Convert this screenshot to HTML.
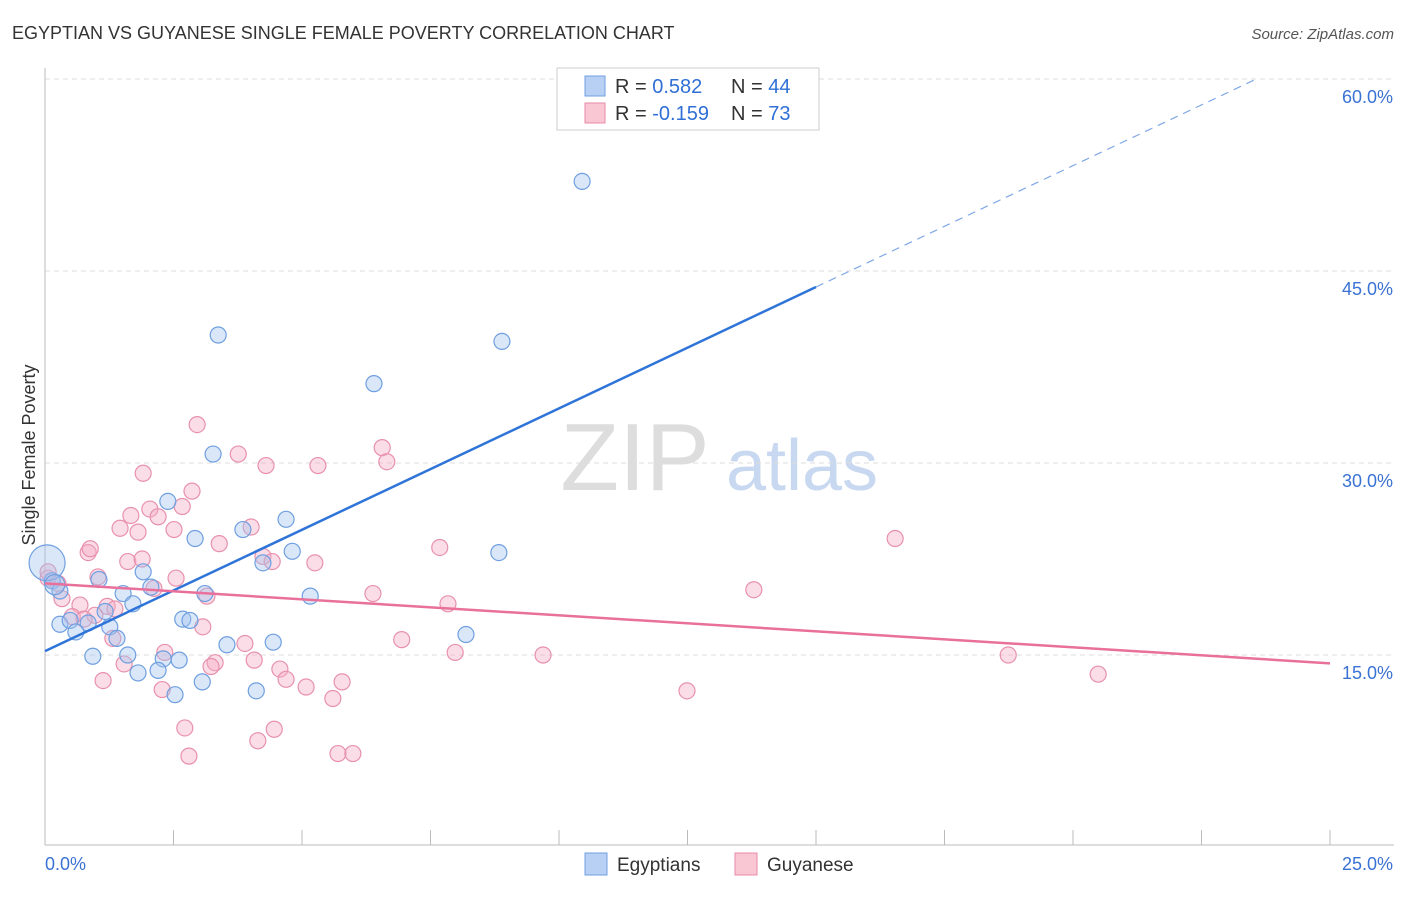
<!DOCTYPE html>
<html><head><meta charset="utf-8"><style>
body{margin:0;background:#fff;font-family:"Liberation Sans",sans-serif;}
svg text{font-family:"Liberation Sans",sans-serif;}
</style></head><body>
<svg id="chart" width="1406" height="892">
<text x="12" y="39" font-size="18" fill="#333">EGYPTIAN VS GUYANESE SINGLE FEMALE POVERTY CORRELATION CHART</text>
<text x="1394" y="39" font-size="15" fill="#555" font-style="italic" text-anchor="end">Source: ZipAtlas.com</text>
<text x="35" y="455" font-size="18" fill="#333" transform="rotate(-90 35 455)" text-anchor="middle">Single Female Poverty</text>
<g><text x="635" y="490" font-size="96" fill="#ddd" font-family="Liberation Serif" text-anchor="middle">ZIP</text><text x="802" y="490" font-size="72" fill="#c7d8f0" text-anchor="middle">atlas</text></g>
<g id="grid"></g><g id="axes"></g><g id="pts"></g><g id="lines"></g>
<g>
<rect x="557" y="68" width="262" height="62" fill="#fff" stroke="#ccc"/>
<rect x="585" y="76" width="20" height="20" fill="#b8d0f4" stroke="#6f9fe0"/>
<rect x="585" y="103" width="20" height="20" fill="#f9c6d4" stroke="#e88aa8"/>
<text x="615" y="93" font-size="20" fill="#333">R = <tspan fill="#2f6fd6"> 0.582</tspan><tspan x="731">N = </tspan><tspan fill="#2f6fd6">44</tspan></text>
<text x="615" y="120" font-size="20" fill="#333">R = <tspan fill="#2f6fd6">-0.159</tspan><tspan x="731">N = </tspan><tspan fill="#2f6fd6">73</tspan></text>
</g>
<g>
<rect x="585" y="853" width="22" height="22" fill="#b8d0f4" stroke="#6f9fe0"/>
<text x="617" y="871" font-size="19" fill="#333">Egyptians</text>
<rect x="735" y="853" width="22" height="22" fill="#f9c6d4" stroke="#e88aa8"/>
<text x="767" y="871" font-size="19" fill="#333">Guyanese</text>
</g>
</svg>
<script>
const yTicks=[15,30,45,60];
const xTickLabels=["0.0%","25.0%"];
const blueX=[10.45,3.37,8.89,6.40,3.27,2.39,4.69,3.85,2.92,4.81,8.83,4.24,1.91,1.05,0.14,0.29,2.06,1.52,3.11,1.71,5.16,2.68,2.82,1.17,0.29,0.49,0.84,1.26,0.60,1.40,3.54,4.44,8.19,0.93,1.61,2.30,2.61,2.20,1.81,3.06,4.11,2.53,0.04,0.19];
const blueY=[52.0,40.0,39.5,36.2,30.7,27.0,25.6,24.8,24.1,23.1,23.0,22.2,21.5,20.9,20.8,20.0,20.3,19.8,19.8,19.0,19.6,17.8,17.7,18.4,17.4,17.7,17.5,17.2,16.8,16.3,15.8,16.0,16.6,14.9,15.0,14.7,14.6,13.8,13.6,12.9,12.2,11.9,22.2,20.5];
const blueR=[8,8,8,8,8,8,8,8,8,8,8,8,8,8,8,8,8,8,8,8,8,8,8,8,8,8,8,8,8,8,8,8,8,8,8,8,8,8,8,8,8,8,18,10];
const pinkX=[2.96,6.56,3.76,6.65,4.30,5.31,1.91,2.86,2.67,2.04,1.67,2.20,2.51,1.46,1.81,4.01,3.39,16.54,7.68,0.84,0.88,1.61,1.89,4.24,4.42,5.25,2.55,1.03,0.06,0.25,2.12,3.15,6.38,13.79,0.33,0.68,7.84,1.21,1.36,0.97,0.53,0.76,3.07,6.94,1.32,3.89,2.33,7.98,9.69,18.74,4.07,3.31,3.23,1.54,4.57,4.69,5.78,20.49,1.13,5.08,2.28,12.49,5.60,2.72,4.46,4.14,2.80,5.70,5.99,0.06];
const pinkY=[33.0,31.2,30.7,30.1,29.8,29.8,29.2,27.8,26.6,26.4,25.9,25.8,24.8,24.9,24.6,25.0,23.7,24.1,23.4,23.0,23.3,22.3,22.5,22.7,22.3,22.2,21.0,21.1,21.0,20.6,20.2,19.6,19.8,20.1,19.4,18.9,19.0,18.8,18.6,18.1,18.0,17.8,17.2,16.2,16.3,15.9,15.2,15.2,15.0,15.0,14.6,14.4,14.1,14.3,13.9,13.1,12.9,13.5,13.0,12.5,12.3,12.2,11.6,9.3,9.2,8.3,7.1,7.3,7.3,21.5];
const blueFit=[15.3,43.75];
const pinkFit=[20.6,14.35];
const X=v=>45+v*51.4, Y=v=>847-v*12.8;
const NS="http://www.w3.org/2000/svg";
function mk(t,a,p){const e=document.createElementNS(NS,t);for(const k in a)e.setAttribute(k,a[k]);p.appendChild(e);return e;}
const grid=document.getElementById('grid'),axes=document.getElementById('axes'),pts=document.getElementById('pts'),lines=document.getElementById('lines');
yTicks.forEach(t=>{
 const l=mk('line',{x1:45,x2:1394,y1:Y(t),y2:Y(t),stroke:'#ddd','stroke-dasharray':'5,4'},grid);
 
 
 const tx=mk('text',{x:1393,y:Y(t)+24,'font-size':18,fill:'#3a72d4','text-anchor':'end'},axes);
 tx.textContent=t.toFixed(1)+'%';
 
 
});
const ax=mk('line',{x1:45,x2:1394,y1:845,y2:845,stroke:'#bbb'},axes);


const ay=mk('line',{x1:45,x2:45,y1:68,y2:845,stroke:'#bbb'},axes);


for(let i=0;i<=10;i++){const t=mk('line',{x1:X(i*2.5),x2:X(i*2.5),y1:830,y2:845,stroke:'#bbb'},axes);
 
 }
const l0=mk('text',{x:45,y:870,'font-size':18,fill:'#3a72d4'},axes);l0.textContent=xTickLabels[0];


const l1=mk('text',{x:1393,y:870,'font-size':18,fill:'#3a72d4','text-anchor':'end'},axes);l1.textContent=xTickLabels[1];


pinkX.forEach((x,i)=>{const c=mk('circle',{cx:X(x),cy:Y(pinkY[i]),r:8,fill:'rgba(245,170,195,0.4)',stroke:'#e891ad','stroke-width':1.2},pts);
 
 });
blueX.forEach((x,i)=>{const c=mk('circle',{cx:X(x),cy:Y(blueY[i]),r:blueR[i],fill:'rgba(160,195,240,0.4)',stroke:'#6f9fe0','stroke-width':1.2},pts);
 
 });
const bs=(blueFit[1]-blueFit[0])/15;
const b1=mk('line',{x1:X(0),y1:Y(blueFit[0]),x2:X(15),y2:Y(blueFit[1]),stroke:'#2f74d8','stroke-width':2.5},lines);


const xe=(60-blueFit[0])/bs;
const b2=mk('line',{x1:X(15),y1:Y(blueFit[1]),x2:X(xe),y2:Y(60),stroke:'#7fa8e6','stroke-width':1.2,'stroke-dasharray':'8,6'},lines);


const p1=mk('line',{x1:X(0),y1:Y(pinkFit[0]),x2:X(25),y2:Y(pinkFit[1]),stroke:'#e8709a','stroke-width':2.5},lines);


</script>
</body></html>
